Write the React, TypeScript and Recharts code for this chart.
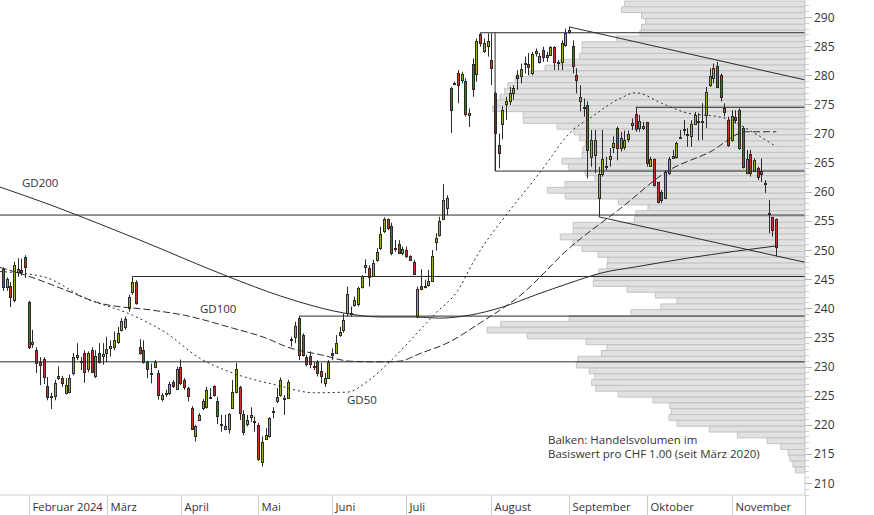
import React from "react";
import {
  ComposedChart, Bar, Line, XAxis, YAxis, ReferenceArea, ReferenceLine,
} from "recharts";

const FONT = '"Open Sans", "Noto Sans", sans-serif';
const INK = "#333333";
const AXIS = "#cccccc";
const UP = "#9cb21e";
const DOWN = "#c4382a";
const EDGE = "#2b2b2b";

// trading days from 23.01.2024, prices in CHF
const open = [
  246.7, 243.6, 243.8, 241.4, 246.3, 246.6, 248.8,
  241.0, 233.9, 232.8, 230.8, 231.3, 226.7, 224.9, 224.9, 228.1, 228.0, 225.5, 225.6, 228.9, 231.6, 230.9, 232.3, 229.6, 232.8, 228.4, 232.3, 231.8,
  232.3, 233.1, 233.4, 234.2, 236.3, 236.8, 240.0, 242.8, 244.5, 233.3, 232.8, 230.7, 228.9, 230.0, 228.8, 224.5, 225.4, 225.4, 227.3, 226.1,
  230.0, 227.7, 226.3, 222.8, 218.0, 220.9, 222.8, 223.0, 224.8, 226.7, 224.0, 220.1, 219.3, 219.2, 222.8, 225.6, 226.4, 221.8, 220.1, 221.4, 220.6,
  220.0, 213.6, 217.6, 218.0, 222.2, 224.0, 225.1, 224.6, 224.6, 234.6, 235.0, 238.4, 235.4, 231.7, 231.8, 230.1, 230.7, 229.3, 227.1, 228.1,
  232.4, 232.4, 235.4, 236.2, 239.1, 239.0, 240.6, 240.7, 243.6, 247.0, 246.9, 245.5, 248.3, 250.3, 253.2, 255.3, 254.1, 250.2, 251.0, 249.5,
  250.0, 249.0, 248.0, 238.6, 243.8, 243.6, 244.0, 244.6, 251.4, 252.6, 255.4, 257.2, 277.8, 278.5, 280.4, 279.2, 279.1, 273.2, 282.0, 280.2, 287.1, 284.2, 285.0,
  282.7, 276.9, 268.1, 271.6, 275.1, 275.6, 276.9, 280.0, 279.8, 281.9, 281.9, 280.4, 283.9, 282.2, 284.3, 283.2, 283.5, 284.9, 282.1, 282.3, 285.2,
  287.4, 285.0, 280.0, 275.5, 274.6, 274.9, 266.0, 266.3, 258.9, 263.1, 264.5, 265.6, 267.7, 270.9, 267.5, 267.6, 269.0, 271.5, 273.3, 270.9, 270.9,
  272.0, 264.4, 265.6, 261.6, 260.0, 259.0, 263.2, 265.8, 265.9, 269.2, 270.6, 270.0, 269.6, 271.7, 272.1, 272.0, 273.2, 278.3, 279.6, 281.6, 280.0, 274.3, 272.3,
  268.9, 272.9, 274.0, 271.0, 263.2, 266.4, 263.6, 264.0, 263.6, 261.5, 256.4, 255.6, 255.3,
];
const high = [
  247.0, 245.3, 244.5, 248.0, 248.6, 248.5, 249.1,
  241.3, 236.3, 233.3, 231.6, 231.6, 228.2, 225.5, 227.7, 230.0, 228.4, 228.0, 228.6, 232.3, 234.0, 231.6, 232.8, 232.6, 233.3, 232.8, 234.0, 234.0,
  235.1, 234.5, 236.0, 236.8, 238.3, 238.6, 242.3, 245.45, 244.8, 234.7, 234.5, 231.0, 230.5, 231.1, 229.4, 225.4, 226.0, 227.4, 227.7, 230.0,
  231.2, 228.0, 226.5, 223.2, 220.0, 222.0, 224.4, 226.5, 226.3, 226.8, 224.8, 221.7, 221.7, 222.0, 227.7, 230.6, 226.7, 222.5, 221.7, 223.0, 221.4,
  220.3, 218.0, 219.4, 221.3, 223.0, 226.3, 228.1, 225.1, 227.7, 235.1, 237.7, 238.65, 235.7, 232.0, 232.6, 230.8, 231.1, 230.6, 228.9, 231.1,
  233.1, 235.4, 236.8, 239.1, 243.7, 240.3, 242.0, 243.7, 245.7, 248.4, 247.4, 248.3, 250.3, 254.0, 255.6, 255.4, 254.7, 251.7, 251.7, 250.6,
  250.6, 249.1, 248.3, 243.7, 246.7, 244.9, 246.6, 250.0, 252.9, 255.7, 261.3, 259.4, 278.0, 278.9, 280.9, 280.6, 279.5, 274.3, 282.9, 286.3, 287.3, 286.3, 287.2,
  287.2, 277.2, 270.0, 274.7, 276.3, 278.0, 278.3, 280.9, 282.0, 283.2, 283.8, 284.0, 284.6, 283.8, 284.9, 284.0, 285.0, 285.0, 282.6, 286.0, 288.0,
  288.3, 286.0, 281.2, 278.3, 276.0, 275.5, 270.6, 270.6, 264.3, 270.6, 266.0, 267.5, 269.5, 271.2, 270.3, 270.5, 270.5, 272.6, 274.5, 273.2, 272.0,
  272.0, 266.0, 265.7, 261.7, 260.3, 263.7, 266.0, 267.2, 268.6, 270.6, 272.3, 270.9, 272.3, 273.7, 273.5, 275.2, 278.0, 281.2, 282.0, 282.3, 280.3, 275.2, 272.9,
  274.0, 274.0, 274.3, 271.2, 267.2, 267.2, 265.7, 264.3, 265.7, 262.0, 258.6, 255.7, 255.4,
];
const low = [
  243.0, 243.0, 240.2, 241.0, 245.4, 245.6, 245.2,
  233.0, 233.2, 228.9, 226.8, 227.0, 224.2, 222.7, 224.2, 227.7, 226.5, 225.2, 225.4, 228.5, 231.1, 229.4, 227.2, 229.0, 229.0, 228.0, 230.5, 230.3,
  230.8, 231.7, 232.8, 233.9, 236.0, 236.3, 239.4, 242.3, 240.6, 232.0, 230.5, 228.0, 227.1, 229.7, 224.3, 224.0, 224.8, 225.1, 226.3, 226.0,
  226.8, 226.0, 224.0, 219.1, 217.1, 220.8, 222.5, 222.8, 224.4, 224.8, 220.1, 218.8, 219.1, 218.5, 222.7, 225.4, 220.8, 218.2, 219.7, 220.5, 218.8,
  213.8, 212.8, 217.4, 217.8, 221.1, 223.7, 224.8, 221.7, 224.5, 233.4, 234.0, 231.1, 231.7, 230.0, 229.7, 229.4, 228.3, 227.1, 226.5, 228.0,
  231.1, 232.3, 235.1, 235.8, 238.6, 238.6, 240.3, 240.3, 243.4, 246.0, 243.7, 245.4, 248.0, 250.0, 252.9, 253.4, 249.1, 249.7, 249.3, 249.1,
  248.6, 248.3, 245.7, 238.3, 243.1, 243.4, 243.7, 244.6, 249.9, 252.3, 255.2, 256.0, 270.1, 278.3, 275.2, 278.6, 272.9, 271.1, 276.3, 278.9, 284.9, 283.8, 283.2,
  278.3, 263.55, 264.0, 269.0, 272.3, 274.9, 275.8, 277.5, 278.6, 280.3, 280.0, 280.0, 283.2, 282.0, 282.3, 282.3, 283.3, 280.9, 280.9, 280.9, 284.9,
  287.1, 280.3, 276.9, 273.8, 272.9, 262.3, 264.3, 263.2, 255.7, 262.6, 263.7, 264.3, 266.6, 265.4, 266.9, 267.2, 268.5, 270.6, 270.3, 270.3, 270.6,
  264.3, 264.3, 260.9, 258.0, 258.0, 258.9, 262.9, 265.7, 265.7, 269.1, 269.7, 267.7, 267.7, 271.5, 268.8, 268.9, 270.9, 278.0, 278.6, 277.8, 275.5, 272.9, 267.7,
  268.6, 271.7, 267.2, 264.0, 263.0, 262.6, 263.4, 262.0, 261.7, 259.8, 252.9, 252.3, 248.9,
];
const close = [
  243.6, 245.1, 241.9, 247.4, 246.7, 246.3, 247.1,
  233.4, 234.2, 230.6, 230.2, 228.2, 224.8, 224.7, 227.2, 228.4, 227.2, 226.8, 228.0, 231.6, 231.9, 230.7, 229.1, 232.3, 229.1, 231.8, 230.8, 232.2,
  233.0, 233.5, 234.5, 235.7, 237.8, 238.2, 241.9, 244.5, 240.9, 232.4, 230.8, 229.5, 228.7, 230.8, 225.1, 225.1, 225.2, 227.0, 226.7, 229.5,
  227.1, 226.4, 224.9, 219.3, 219.7, 221.7, 224.1, 225.9, 224.6, 225.1, 221.5, 219.9, 219.7, 221.8, 225.6, 229.5, 222.1, 218.8, 220.8, 221.6, 220.4,
  214.1, 217.0, 218.2, 221.1, 222.4, 224.8, 227.6, 224.4, 227.3, 234.7, 236.9, 232.0, 232.0, 230.4, 230.4, 230.0, 228.8, 228.3, 228.1, 230.8,
  232.0, 234.0, 236.0, 238.0, 242.4, 239.2, 241.5, 243.4, 245.6, 247.4, 245.4, 247.8, 249.7, 252.8, 255.3, 253.7, 249.4, 250.4, 249.5, 250.1,
  249.0, 248.3, 245.9, 243.3, 243.3, 243.8, 244.6, 249.0, 252.0, 254.9, 258.6, 258.9, 274.1, 278.7, 278.3, 280.2, 273.3, 273.5, 277.6, 285.9, 285.6, 285.5, 285.9,
  281.2, 270.1, 266.6, 274.1, 275.6, 277.0, 277.8, 279.5, 281.0, 282.1, 281.5, 283.6, 284.1, 283.3, 283.1, 283.4, 284.9, 282.2, 282.3, 285.5, 287.2,
  287.7, 281.6, 279.2, 276.2, 274.3, 267.2, 268.9, 268.9, 263.1, 265.6, 264.2, 266.1, 268.4, 267.5, 269.2, 268.9, 270.0, 271.8, 270.7, 272.2, 271.3,
  264.9, 265.6, 261.2, 258.3, 258.5, 263.4, 265.6, 266.1, 268.3, 269.4, 270.8, 269.7, 271.6, 273.2, 271.9, 272.1, 277.2, 279.8, 281.2, 278.0, 276.3, 273.7, 268.0,
  273.0, 272.3, 267.5, 264.3, 265.7, 263.2, 265.4, 262.6, 263.0, 261.3, 256.2, 253.4, 250.6,
];

// first trading day of each month (index)
const monthStarts = [7, 28, 48, 69, 89, 109, 132, 153, 174, 197];
const monthLabels = ["Februar 2024", "März", "April", "Mai", "Juni", "Juli", "August", "September", "Oktober", "November"];

// moving averages, read at sample days
const gd200Days = [-0.8, 13, 26, 37, 61, 75, 80, 92, 102, 111, 118, 126, 135, 144, 153, 162, 171, 185, 198, 209];
const gd200Vals = [260.8, 257.7, 254.5, 251.7, 245.4, 242.1, 241.1, 239.2, 238.5, 238.5, 238.3, 238.8, 240.2, 242.3, 244.3, 246.1, 247.1, 248.6, 249.8, 250.7];
const gd100Days = [-0.8, 6, 17, 26, 40, 49, 62, 71, 77, 86, 94, 102, 107, 113, 120, 129, 140, 153, 167, 180, 191, 201, 209];
const gd100Vals = [247.0, 245.7, 243.1, 240.9, 239.7, 238.8, 236.6, 234.9, 233.3, 232.0, 230.9, 230.8, 230.9, 232.3, 234.0, 237.5, 242.3, 250.3, 257.2, 263.7, 266.8, 270.3, 270.3];
const gd50Days = [-0.8, 11, 22, 35, 44, 53, 62, 74, 84, 93, 99, 105, 111, 117, 123, 127, 130, 135, 145, 154, 159, 167, 171, 178, 185, 194, 203, 209];
const gd50Vals = [246.3, 245.4, 241.8, 238.8, 235.8, 231.5, 228.9, 226.8, 225.5, 225.6, 227.7, 231.1, 235.1, 239.2, 243.1, 247.8, 250.9, 255.2, 263.2, 270.6, 272.8, 276.1, 277.0, 275.2, 273.5, 272.8, 270.1, 267.7];

// volume profile: relative turnover per CHF 1.00 level, from 292 down to 212
const profileTop = 292;
const profileVol = [
  22.4, 22.8, 20.3, 19.8, 20.3, 20.5, 23.4, 27.7, 27.7, 28.0,
  30.4, 32.3, 34.2, 36.0, 36.9, 37.3, 37.9, 38.3, 38.8, 35.0,
  35.0, 30.8, 28.7, 28.0, 27.3, 27.6, 27.7, 30.2, 29.4, 27.3,
  26.1, 29.8, 32.0, 29.8, 23.2, 19.5, 21.0, 21.2, 28.8, 28.8,
  30.4, 28.8, 27.7, 25.7, 24.5, 24.6, 25.6, 26.2, 26.3, 22.1,
  18.6, 15.9, 17.9, 21.6, 29.3, 37.8, 39.5, 34.5, 27.2, 24.6,
  25.3, 28.2, 28.4, 26.8, 26.1, 26.5, 26.0, 23.2, 18.9, 16.8,
  16.6, 16.9, 15.9, 11.9, 8.4, 4.7, 3.0, 2.1, 1.9, 1.5, 1.2,
];

// support / resistance: [start day, price]
const levels = [[129, 287.3], [171, 274.5], [133, 263.55], [35, 245.45], [80, 238.65]];
const fullLevels = [256.0, 230.8];
const upperTrend = [[153, 288.3], [216.76, 279.2]];
const lowerTrend = [[161, 255.7], [216.76, 247.9]];
const boxEdge = [[133, 287.3], [133, 263.55]];

const XMIN = -0.81;
const XMAX = 216.76;
const YMIN = 207.94;
const YMAX = 292.92;

const candles = open.map((o, i) => ({ i, o, h: high[i], l: low[i], c: close[i] }));
const series = (days: number[], vals: number[]) => days.map((d, k) => ({ i: d, v: vals[k] }));
const yTicks = Array.from({ length: 85 }, (_, k) => 208 + k);

function Candle(props: any) {
  const { x, y, width, height, payload } = props;
  if (x == null || !payload) return null;
  const cx = Math.round(x + width / 2) + 0.5;
  const span = payload.h - payload.l || 1;
  const py = (v: number) => y + ((payload.h - v) / span) * height;
  const top = Math.round(py(Math.max(payload.o, payload.c))) + 0.5;
  const bot = Math.round(py(Math.min(payload.o, payload.c))) + 0.5;
  const up = payload.c >= payload.o;
  return (
    <g>
      <line x1={cx} x2={cx} y1={y} y2={y + height} stroke={EDGE} strokeWidth={1} />
      <rect x={cx - 1} y={top} width={2} height={Math.max(bot - top, 1)}
        fill={up ? UP : DOWN} stroke={EDGE} strokeWidth={1} />
    </g>
  );
}

function MonthTick(props: any) {
  const { x, y, payload } = props;
  const k = monthStarts.indexOf(payload.value);
  const lx = Math.round(x) + 0.5;
  return (
    <g>
      <line x1={lx} x2={lx} y1={y} y2={y + 20} stroke={AXIS} />
      {k >= 0 && (
        <text x={lx + 3} y={y + 16} fontSize={11.3} fill={INK} fontFamily={FONT}>{monthLabels[k]}</text>
      )}
    </g>
  );
}

function PriceTick(props: any) {
  const { x, y, payload } = props;
  const major = payload.value % 5 === 0;
  const ly = Math.round(y) + 0.5;
  return (
    <g>
      <line x1={x} x2={x + (major ? 7 : 4)} y1={ly} y2={ly} stroke={major ? "#b5b5b5" : "#cfcfcf"} />
      {major && (
        <text x={x + 9} y={y + 4.5} fontSize={12} fill={INK} fontFamily={FONT}>{payload.value}</text>
      )}
    </g>
  );
}

const maProps = { dataKey: "v", type: "monotone" as const, stroke: EDGE, strokeWidth: 1,
  dot: false, activeDot: false, legendType: "none" as const, isAnimationActive: false };

export default function App() {
  return (
    <div style={{ position: "absolute", left: 0, top: 0, width: 874, height: 515, background: "#fff" }}>
      <ComposedChart width={874} height={515} data={candles} margin={{ top: 0, right: 0, bottom: 0, left: 0 }}>
        <XAxis dataKey="i" type="number" domain={[XMIN, XMAX]} allowDataOverflow
          ticks={[...monthStarts, XMAX]} interval={0} tick={<MonthTick />}
          tickSize={0} tickMargin={0} height={20} axisLine={{ stroke: AXIS }} tickLine={false} />
        <XAxis xAxisId="vol" dataKey="vol" type="number" domain={[0, 100]} allowDataOverflow reversed hide />
        <YAxis orientation="right" type="number" domain={[YMIN, YMAX]} allowDataOverflow
          ticks={yTicks} interval={0} tick={<PriceTick />} tickSize={0} tickMargin={0}
          width={69} axisLine={{ stroke: AXIS }} tickLine={false} />

        {profileVol.map((v, k) => (
          <ReferenceArea key={"p" + k} xAxisId="vol" x1={0} x2={v}
            y1={profileTop - k - 0.25} y2={profileTop - k + 0.75}
            fill="#e1e1e1" fillOpacity={1} stroke="#c3c3c3" strokeWidth={1} ifOverflow="hidden" />
        ))}

        {fullLevels.map((p) => (
          <ReferenceLine key={"f" + p} y={p} stroke={EDGE} strokeWidth={1} />
        ))}
        {levels.map(([d, p]) => (
          <ReferenceLine key={"l" + p} segment={[{ x: d, y: p }, { x: XMAX, y: p }]} stroke={EDGE} strokeWidth={1} />
        ))}
        <ReferenceLine segment={boxEdge.map(([x, y]) => ({ x, y }))} stroke={EDGE} strokeWidth={1} />
        <ReferenceLine segment={upperTrend.map(([x, y]) => ({ x, y }))} stroke={EDGE} strokeWidth={1} />
        <ReferenceLine segment={lowerTrend.map(([x, y]) => ({ x, y }))} stroke={EDGE} strokeWidth={1} />

        <Line data={series(gd200Days, gd200Vals)} {...maProps} />
        <Line data={series(gd100Days, gd100Vals)} {...maProps} strokeDasharray="7 3" />
        <Line data={series(gd50Days, gd50Vals)} {...maProps} strokeDasharray="2 3" />

        <Bar dataKey={(d: any) => [d.l, d.h]} barSize={3} shape={<Candle />} isAnimationActive={false} />
      </ComposedChart>

      <svg width={874} height={515} style={{ position: "absolute", left: 0, top: 0, pointerEvents: "none" }}
        fontFamily={FONT} fontSize={11.5} fill={INK}>
        <text x={22} y={187}>GD200</text>
        <text x={200} y={313}>GD100</text>
        <text x={347} y={404}>GD50</text>
        <text x={548} y={444}>Balken: Handelsvolumen im</text>
        <text x={548} y={458}>Basiswert pro CHF 1.00 (seit März 2020)</text>
      </svg>
    </div>
  );
}
